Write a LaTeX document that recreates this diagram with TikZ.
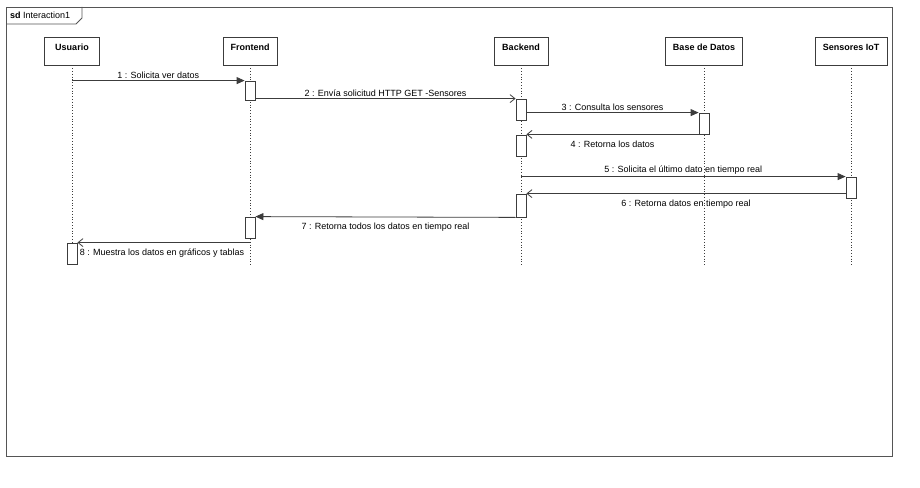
\documentclass[tikz,border=0pt]{standalone}
\usepackage{fontspec}
\setmainfont{Liberation Sans}
\usetikzlibrary{arrows.meta}
\definecolor{ink}{HTML}{3C3C3C}
\definecolor{framec}{HTML}{555555}

\tikzset{
  head/.style={draw=ink, fill=white, minimum height=28pt, inner sep=0pt, line width=0.8pt},
  headname/.style={font=\bfseries\fontsize{9}{10}\selectfont, anchor=north, yshift=-4pt},
  act/.style={draw=ink, fill=white, minimum width=10pt, inner sep=0pt, line width=0.8pt},
  life/.style={draw=ink, dotted, line width=0.8pt},
  sync/.style={draw=ink, line width=0.8pt, -{Triangle[length=8pt,width=7pt]}},
  reply/.style={draw=ink, line width=0.8pt, -{Straight Barb[length=5pt,width=8pt]}},
  msg/.style={font=\fontsize{9}{10}\selectfont, inner sep=2pt},
  under/.style={msg, yshift=-4pt},
  framebox/.style={draw=framec, line width=0.9pt},
}

\begin{document}
\begin{tikzpicture}[x=1pt, y=-1pt]
  \useasboundingbox (0,0) rectangle (920,487);
  \fill[white] (0,0) rectangle (920,487);

  % interaction frame with its name tab
  \draw[framebox] (6,7) rectangle (892,456);
  \draw[framebox] (6,24) -- (76,24) -- (82,18) -- (82,7);
  \node[anchor=west, font=\fontsize{9}{10}\selectfont, inner sep=0pt] (sd) at (10,15.5) {\textbf{sd} Interaction1};

  % participants
  \node[head, minimum width=55pt, label={[headname]north:Usuario}] (usr) at (72,51) {};
  \node[head, minimum width=54pt, label={[headname]north:Frontend}] (fe) at (250,51) {};
  \node[head, minimum width=54pt, label={[headname]north:Backend}] (be) at (521,51) {};
  \node[head, minimum width=77pt, label={[headname]north:Base de Datos}] (db) at (704,51) {};
  \node[head, minimum width=72pt, label={[headname]north:Sensores IoT}] (si) at (851,51) {};

  % lifelines
  \coordinate (bottom) at (0,265);
  \foreach \p in {usr,fe,be,db,si}
    \draw[life] (\p.south) -- (\p.south |- bottom);

  % activation bars
  \node[act, minimum height=19pt] (fe1) at (250,90.5) {};
  \node[act, minimum height=21pt] (be1) at (521,109.5) {};
  \node[act, minimum height=21pt] (db1) at (704,123.5) {};
  \node[act, minimum height=21pt] (be2) at (521,145.5) {};
  \node[act, minimum height=21pt] (si1) at (851,187.5) {};
  \node[act, minimum height=23pt] (be3) at (521,205.5) {};
  \node[act, minimum height=21pt] (fe2) at (250,227.5) {};
  \node[act, minimum height=21pt] (usr1) at (72,253.5) {};

  % messages
  \draw[sync] (usr |- fe1.north) -- (fe1.north west)
    node[msg, midway, above] (m1) {1 : Solicita ver datos};
  \draw[reply] (fe1.east |- be1.north) -- (be1.north west)
    node[msg, midway, above] (m2) {2 : Envía solicitud HTTP GET -Sensores};
  \draw[sync] (be1.east |- db1.north) -- (db1.north west)
    node[msg, midway, above] (m3) {3 : Consulta los sensores};
  \draw[reply] (db1.south west) -- (be2.east |- db1.south west)
    node[under, midway, below] (m4) {4 : Retorna los datos};
  \draw[sync] (be |- si1.north) -- (si1.north west)
    node[msg, midway, above] (m5) {5 : Solicita el último dato en tiempo real};
  \draw[reply] (si1.west |- be3.north) -- (be3.north east)
    node[under, midway, below] (m6) {6 : Retorna datos en tiempo real};
  \draw[sync] (be3.south west) -- (fe2.north east)
    node[under, midway, below] (m7) {7 : Retorna todos los datos en tiempo real};
  \draw[reply] (fe |- usr1.north) -- (usr1.north east)
    node[under, pos=1, below right] (m8) {8 : Muestra los datos en gráficos y tablas};
\end{tikzpicture}
\end{document}
